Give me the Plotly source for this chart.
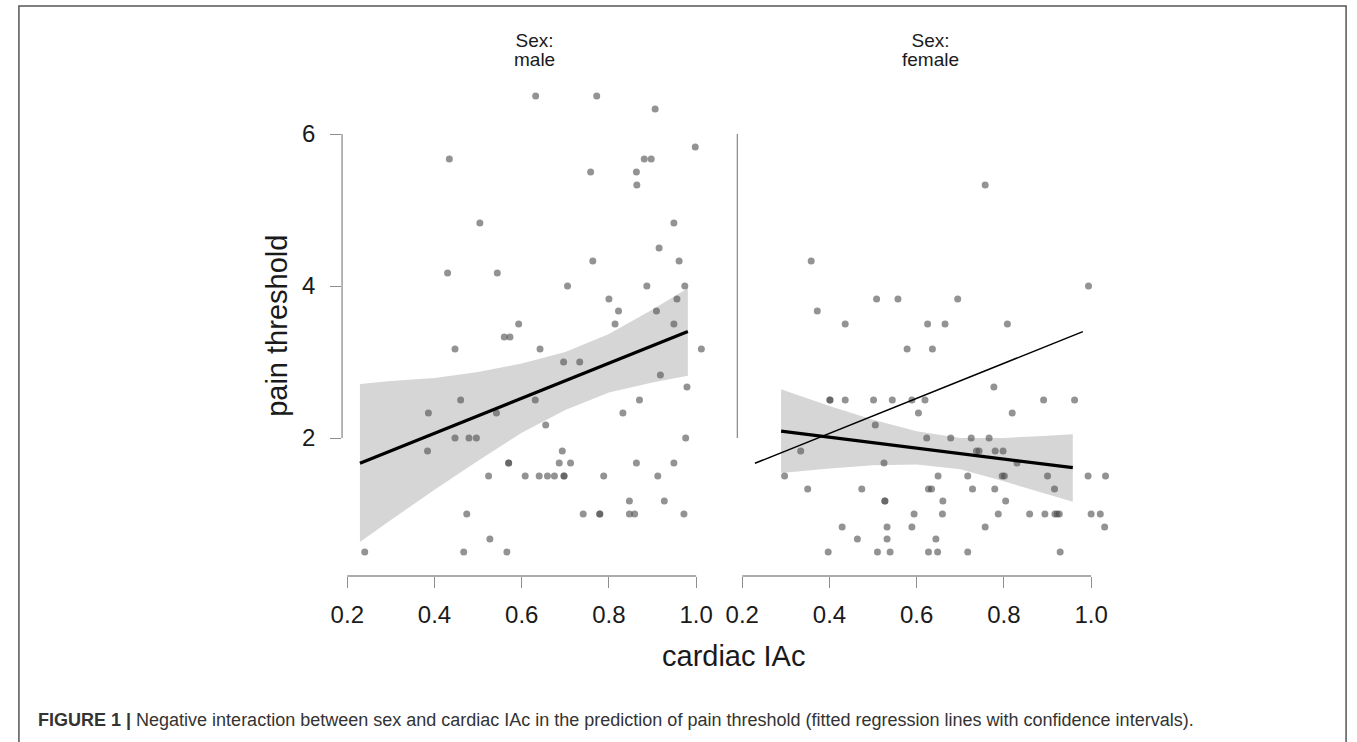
import plotly.graph_objects as go

W, H = 1357, 742

# ---------------- data ----------------
male_x = [0.632, 0.772, 0.906, 0.998, 0.434, 0.881, 0.897, 0.758, 0.863, 0.864,
          0.504, 0.949, 0.915, 0.763, 0.961, 0.430, 0.544, 0.705, 0.887, 0.974,
          0.800, 0.956, 0.822, 0.909, 0.593, 0.814, 0.949, 0.560, 0.573, 0.447,
          0.642, 1.012, 0.696, 0.733, 0.918, 0.979, 0.460, 0.631, 0.870, 0.386,
          0.542, 0.832, 0.655, 0.447, 0.479, 0.496, 0.976, 0.384, 0.693, 0.570,
          0.570, 0.686, 0.712, 0.863, 0.949, 0.524, 0.608, 0.640, 0.659, 0.675,
          0.697, 0.697, 0.788, 0.912, 0.847, 0.927, 0.474, 0.741, 0.779, 0.779,
          0.847, 0.859, 0.972, 0.527, 0.240, 0.467, 0.566]
male_y = [6.50, 6.50, 6.33, 5.83, 5.67, 5.67, 5.67, 5.50, 5.50, 5.33,
          4.83, 4.83, 4.50, 4.33, 4.33, 4.17, 4.17, 4.00, 4.00, 4.00,
          3.83, 3.83, 3.67, 3.67, 3.50, 3.50, 3.50, 3.33, 3.33, 3.17,
          3.17, 3.17, 3.00, 3.00, 2.83, 2.67, 2.50, 2.50, 2.50, 2.33,
          2.33, 2.33, 2.17, 2.00, 2.00, 2.00, 2.00, 1.83, 1.83, 1.67,
          1.67, 1.67, 1.67, 1.67, 1.67, 1.50, 1.50, 1.50, 1.50, 1.50,
          1.50, 1.50, 1.50, 1.50, 1.17, 1.17, 1.00, 1.00, 1.00, 1.00,
          1.00, 1.00, 1.00, 0.67, 0.50, 0.50, 0.50]

female_x = [0.757, 0.358, 0.994, 0.372, 0.508, 0.557, 0.694, 0.436, 0.625, 0.665,
            0.808, 0.578, 0.636, 0.777, 0.401, 0.401, 0.436, 0.501, 0.544, 0.589,
            0.619, 0.891, 0.962, 0.604, 0.819, 0.505, 0.623, 0.678, 0.725, 0.766,
            0.334, 0.737, 0.743, 0.780, 0.798, 0.525, 0.830, 0.297, 0.649, 0.717,
            0.796, 0.801, 0.900, 0.993, 1.033, 0.350, 0.474, 0.627, 0.634, 0.728,
            0.779, 0.916, 0.527, 0.527, 0.660, 0.804, 0.594, 0.659, 0.787, 0.859,
            0.894, 0.917, 0.922, 0.927, 1.000, 1.021, 0.429, 0.532, 0.589, 0.757,
            1.031, 0.464, 0.532, 0.644, 0.397, 0.510, 0.539, 0.627, 0.648, 0.717,
            0.929]
female_y = [5.33, 4.33, 4.00, 3.67, 3.83, 3.83, 3.83, 3.50, 3.50, 3.50,
            3.50, 3.17, 3.17, 2.67, 2.50, 2.50, 2.50, 2.50, 2.50, 2.50,
            2.50, 2.50, 2.50, 2.33, 2.33, 2.17, 2.00, 2.00, 2.00, 2.00,
            1.83, 1.83, 1.83, 1.83, 1.83, 1.67, 1.67, 1.50, 1.50, 1.50,
            1.50, 1.50, 1.50, 1.50, 1.50, 1.33, 1.33, 1.33, 1.33, 1.33,
            1.33, 1.33, 1.17, 1.17, 1.17, 1.17, 1.00, 1.00, 1.00, 1.00,
            1.00, 1.00, 1.00, 1.00, 1.00, 1.00, 0.83, 0.83, 0.83, 0.83,
            0.83, 0.67, 0.67, 0.67, 0.50, 0.50, 0.50, 0.50, 0.50, 0.50,
            0.50]

male_fit_x = [0.229, 0.981]
male_fit_y = [1.667, 3.40]
female_fit_x = [0.289, 0.958]
female_fit_y = [2.09, 1.61]

male_band_x = [0.229, 0.3, 0.4, 0.5, 0.6, 0.7, 0.8, 0.9, 0.981]
male_band_hi = [2.71, 2.75, 2.79, 2.87, 2.98, 3.13, 3.37, 3.69, 3.97]
male_band_lo = [0.63, 0.92, 1.32, 1.70, 2.07, 2.37, 2.60, 2.73, 2.82]
female_band_x = [0.289, 0.4, 0.5, 0.6, 0.7, 0.8, 0.9, 0.958]
female_band_hi = [2.64, 2.42, 2.24, 2.09, 2.00, 2.00, 2.03, 2.05]
female_band_lo = [1.54, 1.60, 1.64, 1.65, 1.59, 1.43, 1.26, 1.16]

x_ticks = [0.2, 0.4, 0.6, 0.8, 1.0]
x_tick_labels = ["0.2", "0.4", "0.6", "0.8", "1.0"]
y_ticks = [2, 4, 6]
y_tick_labels = ["2", "4", "6"]

panel_heading = "Sex:"
panel_titles = ["male", "female"]
caption_bold = "FIGURE 1 |"
caption_text = ("Negative interaction between sex and cardiac IAc in the prediction of "
                "pain threshold (fitted regression lines with confidence intervals).")

# ---------------- styling ----------------
FONT = "Liberation Sans, Arial, sans-serif"
AXIS_GRAY = "#8f8f8f"
POINT_COLOR = "rgba(75,75,75,0.6)"
BAND_COLOR = "#d6d6d6"

def px_x(p):
    return p / W

def px_y(p):
    return 1 - p / H

fig = go.Figure()

def add_panel(xa, ya, bx, bhi, blo, fx, fy, px, py):
    fig.add_trace(go.Scatter(
        x=list(bx) + list(bx)[::-1], y=list(bhi) + list(blo)[::-1],
        fill="toself", fillcolor=BAND_COLOR, line=dict(width=0),
        mode="lines", hoverinfo="skip", showlegend=False, xaxis=xa, yaxis=ya))
    fig.add_trace(go.Scatter(
        x=px, y=py, mode="markers",
        marker=dict(size=7, color=POINT_COLOR, line=dict(width=0)),
        showlegend=False, xaxis=xa, yaxis=ya))
    fig.add_trace(go.Scatter(
        x=fx, y=fy, mode="lines", line=dict(color="black", width=3.2),
        showlegend=False, xaxis=xa, yaxis=ya))

add_panel("x", "y", male_band_x, male_band_hi, male_band_lo,
          male_fit_x, male_fit_y, male_x, male_y)
add_panel("x2", "y2", female_band_x, female_band_hi, female_band_lo,
          female_fit_x, female_fit_y, female_x, female_y)
# male fit repeated thin in the female panel for comparison
fig.add_trace(go.Scatter(
    x=male_fit_x, y=male_fit_y, mode="lines", line=dict(color="black", width=1.5),
    showlegend=False, xaxis="x2", yaxis="y2"))

# axis geometry (pixels -> domains)
x_scale = 441.25           # px per unit
x1_left_px, x1_right_px = 334, 705
x2_left_px, x2_right_px = 734, 1115
x1_02_px, x2_02_px = 339.3, 739.0
y_top_px, y_bot_px = 80, 576
y_scale = 76.0             # px per unit
y_2_px = 438.0

x1_range = [0.2 - (x1_02_px - x1_left_px) / x_scale, 0.2 + (x1_right_px - x1_02_px) / x_scale]
x2_range = [0.2 - (x2_02_px - x2_left_px) / x_scale, 0.2 + (x2_right_px - x2_02_px) / x_scale]
y_range = [2 + (y_2_px - y_bot_px) / y_scale, 2 + (y_2_px - y_top_px) / y_scale]
y_domain = [px_y(y_bot_px), px_y(y_top_px)]

tickfont = dict(family=FONT, size=24, color="#1a1a1a")
common_x = dict(showgrid=False, zeroline=False, showline=False, ticks="outside",
                ticklen=11, tickwidth=1.3, tickcolor=AXIS_GRAY, tickvals=x_ticks,
                ticktext=x_tick_labels, tickfont=tickfont, ticklabelstandoff=6,
                fixedrange=True)
fig.update_layout(
    width=W, height=H, margin=dict(l=0, r=0, t=0, b=0),
    paper_bgcolor="white", plot_bgcolor="white", showlegend=False,
    xaxis=dict(domain=[px_x(x1_left_px), px_x(x1_right_px)], range=x1_range,
               anchor="y", **common_x),
    xaxis2=dict(domain=[px_x(x2_left_px), px_x(x2_right_px)], range=x2_range,
                anchor="y2", **common_x),
    yaxis=dict(domain=y_domain, range=y_range, anchor="x", showgrid=False,
               zeroline=False, showline=False, ticks="outside", ticklen=11,
               tickwidth=1.3, tickcolor=AXIS_GRAY, tickvals=y_ticks,
               ticktext=y_tick_labels, tickfont=tickfont, ticklabelstandoff=10,
               fixedrange=True),
    yaxis2=dict(domain=y_domain, range=y_range, anchor="x2", showgrid=False,
                zeroline=False, showline=False, showticklabels=False, ticks="",
                fixedrange=True),
)

shapes = []
# R-style axis lines limited to the tick range
for xr, yr in (("x", "y"), ("x2", "y2")):
    shapes.append(dict(type="line", xref=xr, yref=f"{yr} domain",
                       x0=x_ticks[0], x1=x_ticks[-1], y0=0, y1=0,
                       line=dict(color=AXIS_GRAY, width=1.3)))
    shapes.append(dict(type="line", xref=f"{xr} domain", yref=yr,
                       x0=0, x1=0, y0=y_ticks[0], y1=y_ticks[-1],
                       line=dict(color=AXIS_GRAY, width=1.3)))
# figure frame
shapes.append(dict(type="rect", xref="paper", yref="paper",
                   x0=px_x(7), x1=px_x(1350), y0=px_y(760), y1=px_y(6),
                   line=dict(color="#555555", width=1.5), fillcolor="rgba(0,0,0,0)"))
fig.update_layout(shapes=shapes)

ann = []
# base font 14.5 keeps the two title lines ~19px apart; glyphs drawn at 19px
title_font = dict(family=FONT, size=14.5, color="#1a1a1a")
for cx, t in ((529, panel_titles[0]), (929, panel_titles[1])):
    txt = (f'<span style="font-size:19px">{panel_heading}</span><br>'
           f'<span style="font-size:19px">{t}</span>')
    ann.append(dict(x=px_x(cx), y=px_y(50), xref="paper", yref="paper", text=txt,
                    showarrow=False, font=title_font, xanchor="center", yanchor="middle"))
ann.append(dict(x=px_x(730.5), y=px_y(656), xref="paper", yref="paper",
                text="cardiac IAc", showarrow=False,
                font=dict(family=FONT, size=29, color="#1a1a1a"),
                xanchor="center", yanchor="middle"))
ann.append(dict(x=px_x(268), y=px_y(326), xref="paper", yref="paper",
                text="pain threshold", showarrow=False, textangle=-90,
                font=dict(family=FONT, size=29, color="#1a1a1a"),
                xanchor="center", yanchor="middle"))
ann.append(dict(x=px_x(24), y=px_y(720), xref="paper", yref="paper",
                text=f"<b>{caption_bold}</b> {caption_text}", showarrow=False,
                font=dict(family=FONT, size=18, color="#333333"),
                xanchor="left", yanchor="middle"))
fig.update_layout(annotations=ann)

fig.write_html("out.html", config={"displayModeBar": False},
               post_script="document.body.style.margin='0';document.body.style.overflow='hidden';")
